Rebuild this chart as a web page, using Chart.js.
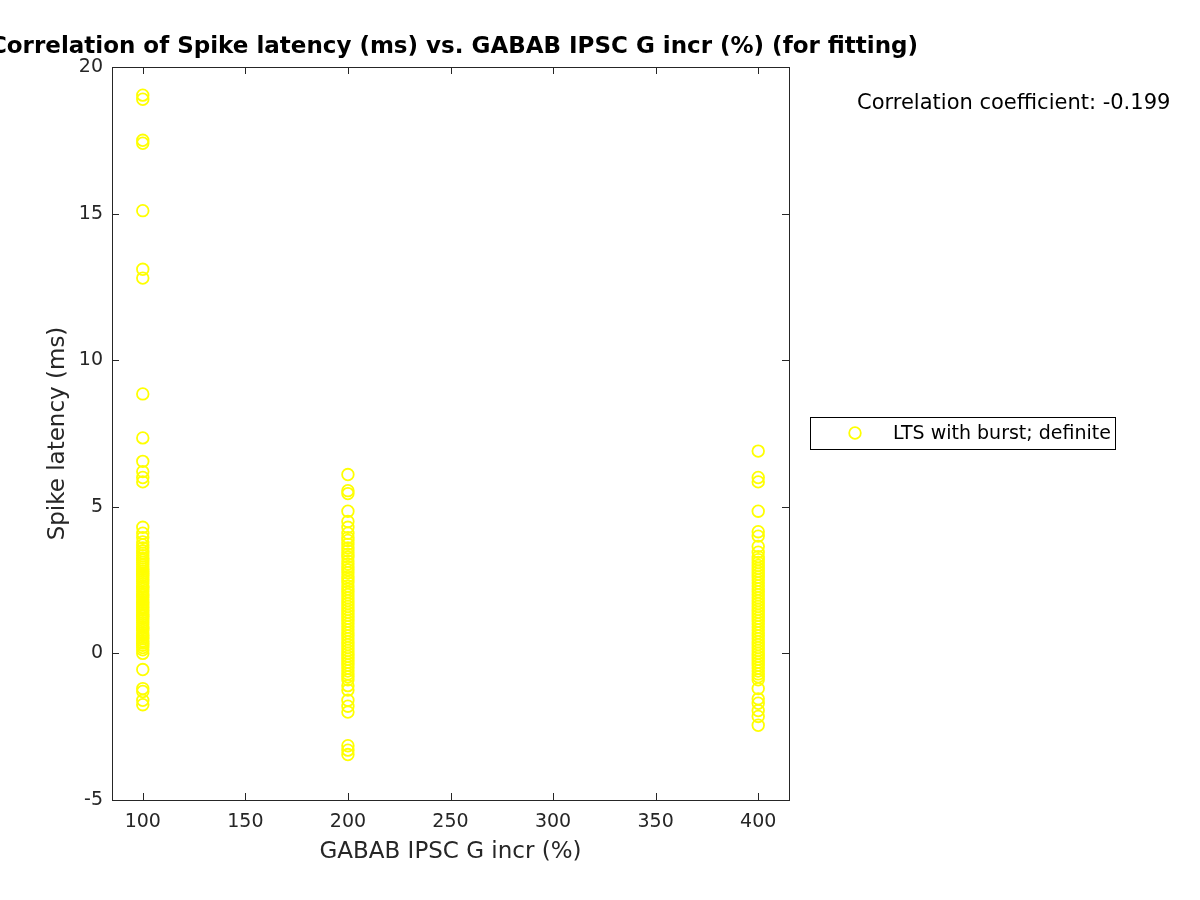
<!DOCTYPE html>
<html><head><meta charset="utf-8">
<script src="https://cdn.jsdelivr.net/npm/chart.js@4/dist/chart.umd.min.js"></script>
<style>html,body{margin:0;padding:0;background:#fff}#wrap{width:1200px;height:900px}</style>
</head><body><div id="wrap"><canvas id="c" width="1200" height="900"></canvas></div>
<script>
const titleText = "Correlation of Spike latency (ms) vs. GABAB IPSC G incr (%) (for fitting)";
const xLabel = "GABAB IPSC G incr (%)";
const yLabel = "Spike latency (ms)";
const seriesName = "LTS with burst; definite";
const corrText = "Correlation coefficient: -0.199";
const xTicks = [100,150,200,250,300,350,400];
const yTicks = [-5,0,5,10,15,20];
const xCategories = [100,200,400];
const lat100 = [19.04,18.9,17.5,17.4,15.1,13.1,12.8,8.85,7.35,6.55,6.2,6.0,5.85,4.3,4.1,3.95,
 3.8,3.7,3.6,3.5,3.42,3.33,3.25,3.18,3.1,3.02,2.95,2.88,2.8,2.73,2.67,2.6,2.52,2.45,2.38,2.3,2.25,2.18,2.1,2.03,1.97,1.9,1.82,1.75,1.68,1.6,1.55,1.48,1.4,1.33,1.27,1.2,1.12,1.05,0.98,0.9,0.85,0.78,0.7,0.63,0.55,0.5,0.42,0.35,0.28,0.2,0.12,0.0,
 -0.55,-1.2,-1.3,-1.6,-1.75];
const lat200 = [6.1,5.55,5.45,4.85,4.5,4.3,4.1,3.95,3.85,3.72,3.6,3.5,3.38,3.28,3.15,3.05,2.95,2.85,2.75,2.62,2.52,2.42,2.3,2.2,2.1,2.0,1.9,1.8,1.7,1.6,1.5,1.4,1.3,1.2,1.1,1.0,0.9,0.8,0.7,0.6,0.5,0.4,0.3,0.2,0.1,0.0,-0.1,-0.2,-0.3,-0.4,-0.5,-0.6,-0.7,-0.8,-0.9,
 -1.1,-1.25,-1.6,-1.8,-2.0,-3.15,-3.3,-3.45];
const lat400 = [6.9,6.0,5.85,4.85,4.15,4.0,3.65,3.45,3.3,3.2,3.1,3.0,2.9,2.8,2.7,2.6,2.5,2.4,2.3,2.2,2.1,2.0,1.9,1.8,1.7,1.6,1.5,1.4,1.3,1.2,1.1,1.0,0.9,0.8,0.7,0.6,0.5,0.4,0.3,0.2,0.1,0.0,-0.1,-0.2,-0.3,-0.4,-0.5,-0.6,-0.7,-0.8,-0.9,
 -1.2,-1.55,-1.7,-1.95,-2.15,-2.45];

const latGroups = [lat100, lat200, lat400];
const points = [];
latGroups.forEach((arr,i)=>arr.forEach(v=>points.push({x:xCategories[i], y:v})));

const FONT = "'DejaVu Sans', sans-serif";
const TXT = '#262626';

const matlabPlugin = {
  id:'matlab',
  afterDraw(chart){
    const {ctx, chartArea:a, scales:{x,y}} = chart;
    ctx.save();
    ctx.strokeStyle = TXT; ctx.lineWidth = 1;
    ctx.strokeRect(a.left+0.5, a.top+0.5, a.right-a.left, a.bottom-a.top);
    const tl = 7;
    ctx.beginPath();
    xTicks.forEach(t=>{const p=Math.round(x.getPixelForValue(t))+0.5;
      ctx.moveTo(p,a.bottom); ctx.lineTo(p,a.bottom-tl);
      ctx.moveTo(p,a.top); ctx.lineTo(p,a.top+tl);});
    yTicks.forEach(t=>{const p=Math.round(y.getPixelForValue(t))+0.5;
      ctx.moveTo(a.left,p); ctx.lineTo(a.left+tl,p);
      ctx.moveTo(a.right,p); ctx.lineTo(a.right-tl,p);});
    ctx.stroke();
    // axis titles
    ctx.fillStyle = TXT;
    ctx.font = "23px " + FONT;
    ctx.textAlign='center'; ctx.textBaseline='middle';
    ctx.fillText(xLabel, (a.left+a.right)/2, 852);
    ctx.save();
    ctx.translate(58, (a.top+a.bottom)/2);
    ctx.rotate(-Math.PI/2);
    ctx.fillText(yLabel, 0, 0);
    ctx.restore();
    // title
    ctx.fillStyle = '#000';
    ctx.font = "bold 23px " + FONT;
    ctx.fillText(titleText, 454, 47);
    // correlation text
    ctx.font = "21px " + FONT;
    ctx.textAlign='left';
    ctx.fillText(corrText, 857, 104);
    // legend
    ctx.strokeStyle='#000'; ctx.lineWidth=1;
    ctx.strokeRect(810.5, 417.5, 305, 32);
    ctx.strokeStyle='#ffff00'; ctx.lineWidth=1.8;
    ctx.beginPath(); ctx.arc(855, 433, 5.8, 0, Math.PI*2); ctx.stroke();
    ctx.fillStyle='#000'; ctx.font = "19px " + FONT;
    ctx.fillText(seriesName, 893, 434);
    ctx.restore();
  }
};

new Chart(document.getElementById('c'), {
  type:'scatter',
  data:{datasets:[{label:seriesName, data:points, showLine:false,
    pointStyle:'circle', pointRadius:5.8, pointHoverRadius:5.8,
    pointBorderColor:'#ffff00', pointBackgroundColor:'rgba(0,0,0,0)', pointBorderWidth:1.8}]},
  options:{
    responsive:false, animation:false, devicePixelRatio:1,
    layout:{padding:{left:0, top:67, right:411, bottom:0}},
    plugins:{legend:{display:false}, tooltip:{enabled:false}, title:{display:false}},
    scales:{
      x:{type:'linear', min:85, max:415,
        afterBuildTicks(s){s.ticks = xTicks.map(v=>({value:v}));},
        afterFit(s){s.height = 100;},
        grid:{display:false, drawTicks:false}, border:{display:false},
        ticks:{color:TXT, font:{family:FONT, size:19}, padding:11, maxRotation:0, autoSkip:false}},
      y:{type:'linear', min:-5, max:20,
        afterBuildTicks(s){s.ticks = yTicks.map(v=>({value:v}));},
        afterFit(s){s.width = 112;},
        grid:{display:false, drawTicks:false}, border:{display:false},
        ticks:{color:TXT, font:{family:FONT, size:19}, padding:9, autoSkip:false}}
    }
  },
  plugins:[matlabPlugin]
});
</script></body></html>
